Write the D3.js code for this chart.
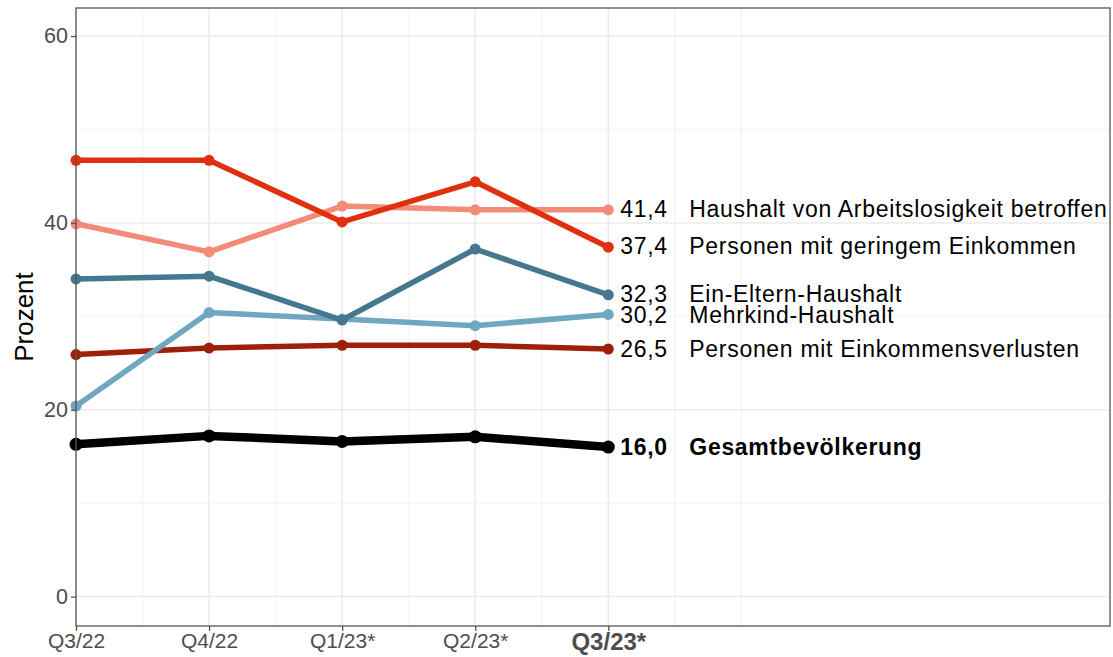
<!DOCTYPE html>
<html>
<head>
<meta charset="utf-8">
<script src="https://cdn.jsdelivr.net/npm/d3@7"></script>
<style>
  body { margin: 0; background: #fff; }
  text { font-family: "Liberation Sans", Arial, sans-serif; }
</style>
</head>
<body>
<svg id="chart" width="1113" height="657"></svg>
<script>
// quarters on the x axis
var quarters = ["Q3/22", "Q4/22", "Q1/23*", "Q2/23*", "Q3/23*"];

// one array per group, values in percent
var arbeitslos = [39.9, 36.9, 41.8, 41.4, 41.4];
var geringEink = [46.7, 46.7, 40.1, 44.4, 37.4];
var einEltern = [34.0, 34.3, 29.6, 37.2, 32.3];
var mehrkind = [20.4, 30.4, 29.7, 29.0, 30.2];
var einkVerlust = [25.9, 26.6, 26.9, 26.9, 26.5];
var gesamt = [16.3, 17.2, 16.6, 17.1, 16.0];

var names = ["Haushalt von Arbeitslosigkeit betroffen", "Personen mit geringem Einkommen",
  "Ein-Eltern-Haushalt", "Mehrkind-Haushalt", "Personen mit Einkommensverlusten", "Gesamtbevölkerung"];
var colors = ["#f48a78", "#e0300f", "#45778f", "#6fa6c0", "#9e1f0a", "#000000"];

var yTicks = [0, 20, 40, 60];

var series = [arbeitslos, geringEink, einEltern, mehrkind, einkVerlust, gesamt].map(function(v, i) {
  return { name: names[i], values: v, color: colors[i], bold: i == 5 };
});
// draw order: light lines first, black on top
var drawOrder = [4, 3, 2, 0, 1, 5];

var pLeft = 76, pRight = 1110, pTop = 8, pBottom = 626;

var x = d3.scaleLinear().domain([1, 8.77]).range([pLeft, pRight]);
var y = d3.scaleLinear().domain([-3.15, 63]).range([pBottom, pTop]);

var svg = d3.select("#chart");

// grid
var g = svg.append("g");
g.selectAll(".ymin").data([10, 30, 50]).enter().append("line")
  .attr("x1", pLeft).attr("x2", pRight)
  .attr("y1", function(d) { return y(d); }).attr("y2", function(d) { return y(d); })
  .attr("stroke", "#efefef").attr("stroke-width", 0.8);
g.selectAll(".xmin").data([1.5, 2.5, 3.5, 4.5, 5.5, 6]).enter().append("line")
  .attr("y1", pTop).attr("y2", pBottom)
  .attr("x1", function(d) { return x(d); }).attr("x2", function(d) { return x(d); })
  .attr("stroke", "#efefef").attr("stroke-width", 0.8);
g.selectAll(".ymaj").data(yTicks).enter().append("line")
  .attr("x1", pLeft).attr("x2", pRight)
  .attr("y1", function(d) { return y(d); }).attr("y2", function(d) { return y(d); })
  .attr("stroke", "#ebebeb").attr("stroke-width", 1.5);
g.selectAll(".xmaj").data(d3.range(1, 6)).enter().append("line")
  .attr("y1", pTop).attr("y2", pBottom)
  .attr("x1", function(d) { return x(d); }).attr("x2", function(d) { return x(d); })
  .attr("stroke", "#ebebeb").attr("stroke-width", 1.5);

// lines and points
var line = d3.line()
  .x(function(d, i) { return x(i + 1); })
  .y(function(d) { return y(d); });

drawOrder.forEach(function(k) {
  var s = series[k];
  svg.append("path")
    .attr("d", line(s.values))
    .attr("fill", "none")
    .attr("stroke", s.color)
    .attr("stroke-width", s.bold ? 8.5 : 5.5)
    .attr("stroke-linejoin", "round");
  svg.selectAll(null).data(s.values).enter().append("circle")
    .attr("cx", function(d, i) { return x(i + 1); })
    .attr("cy", function(d) { return y(d); })
    .attr("r", s.bold ? 6.5 : 5.5)
    .attr("fill", s.color);
});

// end labels
var labelY = [209, 246, 294, 315, 349, 447];
series.forEach(function(s, i) {
  var last = s.values[s.values.length - 1];
  var t = svg.append("g").attr("font-size", "23px").attr("fill", "#000")
    .attr("letter-spacing", "0.7px")
    .attr("font-weight", s.bold ? "bold" : "normal");
  t.append("text").attr("x", x(5) + 12).attr("y", labelY[i]).attr("dy", "0.36em")
    .text(last.toFixed(1).replace(".", ","));
  t.append("text").attr("x", x(5) + 81).attr("y", labelY[i]).attr("dy", "0.36em")
    .text(s.name);
});

// panel border
svg.append("rect")
  .attr("x", pLeft).attr("y", pTop).attr("width", pRight - pLeft).attr("height", pBottom - pTop)
  .attr("fill", "none").attr("stroke", "#555").attr("stroke-width", 1.3);

// axes
var yAxis = d3.axisLeft(y).tickValues(yTicks).tickSize(5).tickPadding(3);
var ya = svg.append("g").attr("transform", "translate(" + pLeft + ",0)").call(yAxis);
ya.select(".domain").remove();
ya.selectAll("line").attr("stroke", "#555").attr("stroke-width", 1.3);
ya.selectAll("text").attr("font-size", "21.5px").attr("fill", "#4d4d4d")
  .attr("font-family", "Liberation Sans, Arial, sans-serif");

var xAxis = d3.axisBottom(x).tickValues(d3.range(1, 6))
  .tickFormat(function(d) { return quarters[d - 1]; }).tickSize(5).tickPadding(2);
var xa = svg.append("g").attr("transform", "translate(0," + pBottom + ")").call(xAxis);
xa.select(".domain").remove();
xa.selectAll("line").attr("stroke", "#555").attr("stroke-width", 1.3);
xa.selectAll("text").attr("fill", "#4d4d4d")
  .attr("font-family", "Liberation Sans, Arial, sans-serif")
  .attr("font-weight", function(d) { return d == 5 ? "bold" : "normal"; })
  .attr("font-size", function(d) { return d == 5 ? "24px" : "21px"; });

// y title
svg.append("text")
  .attr("transform", "translate(33,317) rotate(-90)")
  .attr("text-anchor", "middle")
  .attr("font-size", "26px")
  .text("Prozent");
</script>
</body>
</html>
